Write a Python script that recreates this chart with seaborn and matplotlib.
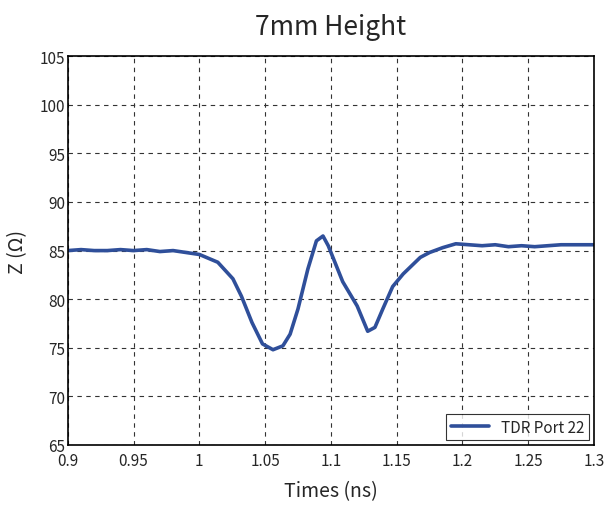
import numpy as np
import pandas as pd
import matplotlib
matplotlib.use('Agg')
import matplotlib.pyplot as plt
import seaborn as sns

# time (ns) and impedance (ohm)
t_ns = [0.90, 0.91, 0.92, 0.93, 0.94, 0.95, 0.96, 0.97, 0.98, 0.985, 0.99,
        1.000, 1.014, 1.0255, 1.032, 1.040, 1.048, 1.056, 1.0635, 1.069,
        1.075, 1.0825, 1.089, 1.094, 1.098, 1.109, 1.120, 1.128, 1.1335,
        1.1395, 1.147, 1.155, 1.168, 1.175, 1.185, 1.195, 1.205, 1.215,
        1.225, 1.235, 1.245, 1.255, 1.265, 1.275, 1.285, 1.30]
z_ohm = [85.0, 85.1, 85.0, 85.0, 85.1, 85.0, 85.1, 84.9, 85.0, 84.9, 84.8,
         84.6, 83.8, 82.1, 80.3, 77.6, 75.4, 74.8, 75.2, 76.4,
         79.0, 83.1, 86.0, 86.5, 85.5, 81.8, 79.3, 76.7, 77.1,
         79.0, 81.3, 82.6, 84.3, 84.8, 85.3, 85.7, 85.6, 85.5,
         85.6, 85.4, 85.5, 85.4, 85.5, 85.6, 85.6, 85.6]
series = 'TDR Port 22'

df = pd.DataFrame({'t': t_ns, 'z': z_ohm, 'series': series})

sns.set_style('white')
plt.rcParams['font.family'] = ['Noto Sans CJK JP', 'DejaVu Sans']

fig = plt.figure(figsize=(6.06, 5.06), dpi=100)
ax = fig.add_axes([0.112, 0.1186, 0.868, 0.7684])

sns.lineplot(data=df, x='t', y='z', hue='series', palette=['#2f4f9a'],
             linewidth=2.6, ax=ax)

ax.set_xlim(0.9, 1.3)
ax.set_ylim(65, 105)
ax.set_xticks(np.arange(0.9, 1.3001, 0.05))
ax.set_xticklabels(['0.9', '0.95', '1', '1.05', '1.1', '1.15', '1.2', '1.25', '1.3'])
ax.set_yticks(np.arange(65, 106, 5))
ax.grid(True, linestyle=(0, (4, 4)), color='#333333', linewidth=0.8)
ax.tick_params(direction='in', length=3, labelsize=11)
ax.tick_params(axis='x', pad=5)
ax.tick_params(axis='y', pad=2)
for sp in ax.spines.values():
    sp.set_color('black')
    sp.set_linewidth(1.2)

ax.set_xlabel('Times (ns)', fontsize=14, labelpad=8)
ax.set_ylabel('Z (Ω)', fontsize=14, labelpad=8)
ax.set_title('7mm Height', fontsize=19, pad=16)

leg = ax.legend(loc='lower right', fontsize=11, fancybox=False,
                frameon=True, borderpad=0.3, handlelength=2.5,
                borderaxespad=0.3)
leg.get_frame().set_edgecolor('black')
leg.get_frame().set_linewidth(0.8)

fig.savefig('out.png', dpi=100)
